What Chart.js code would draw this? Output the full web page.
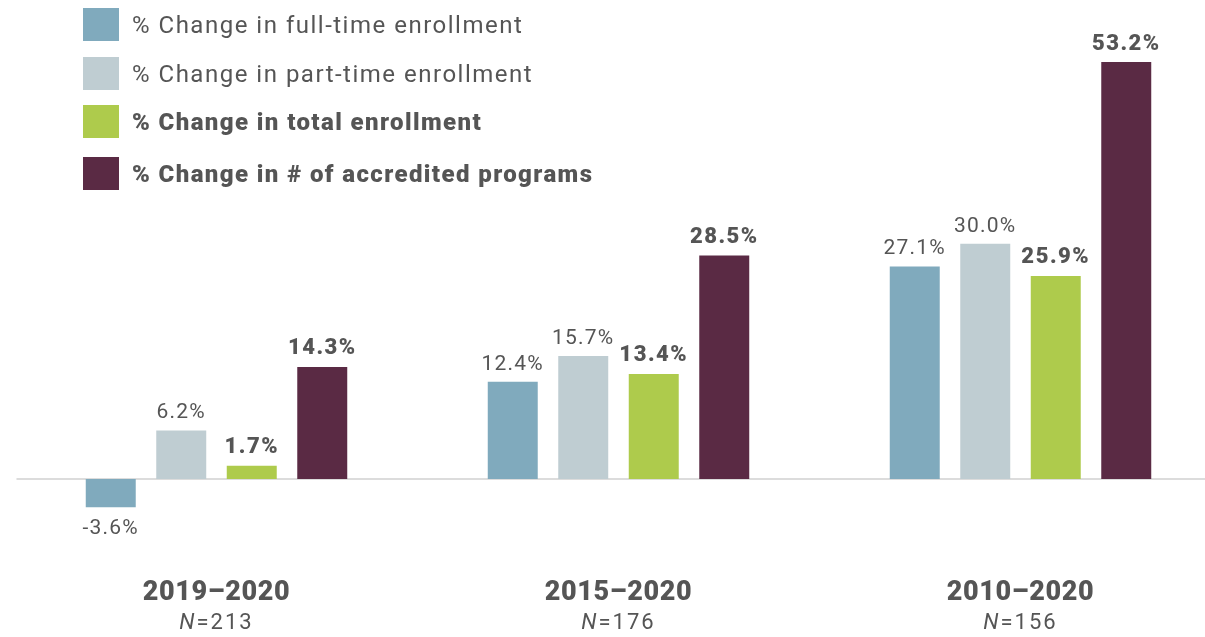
<!DOCTYPE html>
<html>
<head>
<meta charset="utf-8">
<script src="https://cdn.jsdelivr.net/npm/chart.js@4/dist/chart.umd.min.js"></script>
<style>
  html, body { margin: 0; padding: 0; background: #fff; overflow: hidden; }
  #wrap { position: relative; width: 1230px; height: 637px; }
  #legend { position: absolute; left: 0; top: 0; font-family: Roboto, sans-serif; color: #555; }
  .item { position: absolute; left: 83px; display: flex; align-items: center; height: 33px; font-size: 24px; letter-spacing: 1.5px; white-space: nowrap; }
  .item .sw { width: 36px; height: 33px; margin-right: 13px; flex: none; }
  .item.bold { font-weight: 900; letter-spacing: 1.4px; }
</style>
</head>
<body>
<div id="wrap">
  <canvas id="chart" width="1230" height="637"></canvas>
  <div id="legend"></div>
</div>
<script>
const periods = ['2019–2020', '2015–2020', '2010–2020'];
const sampleSizes = ['213', '176', '156'];
const fullTime = [-3.6, 12.4, 27.1];
const partTime = [6.2, 15.7, 30.0];
const totalEnroll = [1.7, 13.4, 25.9];
const programs = [14.3, 28.5, 53.2];

const seriesLabels = [
  '% Change in full-time enrollment',
  '% Change in part-time enrollment',
  '% Change in total enrollment',
  '% Change in # of accredited programs'
];
const seriesColors = ['#80aabd', '#bfcdd2', '#aecb4c', '#5a2a44'];
const seriesBold = [false, false, true, true];
const legendTops = [8, 57, 105, 157];

const textColor = '#555';

// legend built from the series
const legendEl = document.getElementById('legend');
seriesLabels.forEach((lbl, i) => {
  const row = document.createElement('div');
  row.className = 'item' + (seriesBold[i] ? ' bold' : '');
  row.style.top = legendTops[i] + 'px';
  const sw = document.createElement('div'); sw.className = 'sw'; sw.style.background = seriesColors[i];
  const tx = document.createElement('span'); tx.textContent = lbl;
  row.appendChild(sw); row.appendChild(tx);
  legendEl.appendChild(row);
});

const extras = {
  id: 'extras',
  beforeDatasetsDraw(chart) {
    const { ctx, chartArea, scales } = chart;
    const y0 = scales.y.getPixelForValue(0);
    ctx.save();
    ctx.strokeStyle = '#dcdcdc';
    ctx.lineWidth = 2;
    ctx.beginPath();
    ctx.moveTo(chartArea.left + 1, y0);
    ctx.lineTo(chartArea.right, y0);
    ctx.stroke();
    ctx.restore();
  },
  afterDatasetsDraw(chart) {
    const { ctx, scales } = chart;
    ctx.save();
    ctx.textAlign = 'center';
    ctx.fillStyle = textColor;
    chart.data.datasets.forEach((ds, di) => {
      const meta = chart.getDatasetMeta(di);
      if (seriesBold[di]) { ctx.font = '900 22px Roboto'; ctx.letterSpacing = '1.5px'; }
      else { ctx.font = '400 21px Roboto'; ctx.letterSpacing = '1.2px'; }
      meta.data.forEach((bar, i) => {
        const v = ds.data[i];
        const txt = v.toFixed(1) + '%';
        if (v >= 0) {
          ctx.textBaseline = 'bottom';
          ctx.fillText(txt, bar.x, bar.y - 7);
        } else {
          ctx.textBaseline = 'top';
          ctx.fillText(txt, bar.x, bar.y + 11);
        }
      });
    });
    // category labels
    periods.forEach((p, i) => {
      const x = scales.x.getPixelForValue(i);
      ctx.textBaseline = 'middle';
      ctx.textAlign = 'center';
      ctx.font = '900 27px Roboto';
      ctx.letterSpacing = '0.6px';
      ctx.fillText(p, x, 593);
      ctx.letterSpacing = '2px';
      ctx.font = 'italic 400 22px Roboto';
      const nW = ctx.measureText('N').width;
      ctx.font = '400 22px Roboto';
      const rest = '=' + sampleSizes[i];
      const rW = ctx.measureText(rest).width;
      const start = x - (nW + rW) / 2;
      ctx.textAlign = 'left';
      ctx.font = 'italic 400 22px Roboto';
      ctx.fillText('N', start, 623);
      ctx.font = '400 22px Roboto';
      ctx.fillText(rest, start + nW, 623);
    });
    ctx.restore();
  }
};

new Chart(document.getElementById('chart'), {
  type: 'bar',
  data: {
    labels: periods,
    datasets: [fullTime, partTime, totalEnroll, programs].map((d, i) => ({
      label: seriesLabels[i],
      data: d,
      backgroundColor: seriesColors[i],
      borderWidth: 0,
      categoryPercentage: 0.7015,
      barPercentage: 0.709
    }))
  },
  options: {
    responsive: false,
    animation: false,
    layout: { padding: { left: 15.5, right: 8.5, top: 8.7, bottom: 79.6 } },
    plugins: { legend: { display: false }, tooltip: { enabled: false } },
    scales: {
      x: { display: false },
      y: { display: false, min: -10, max: 60 }
    }
  },
  plugins: [extras]
});
</script>
</body>
</html>
